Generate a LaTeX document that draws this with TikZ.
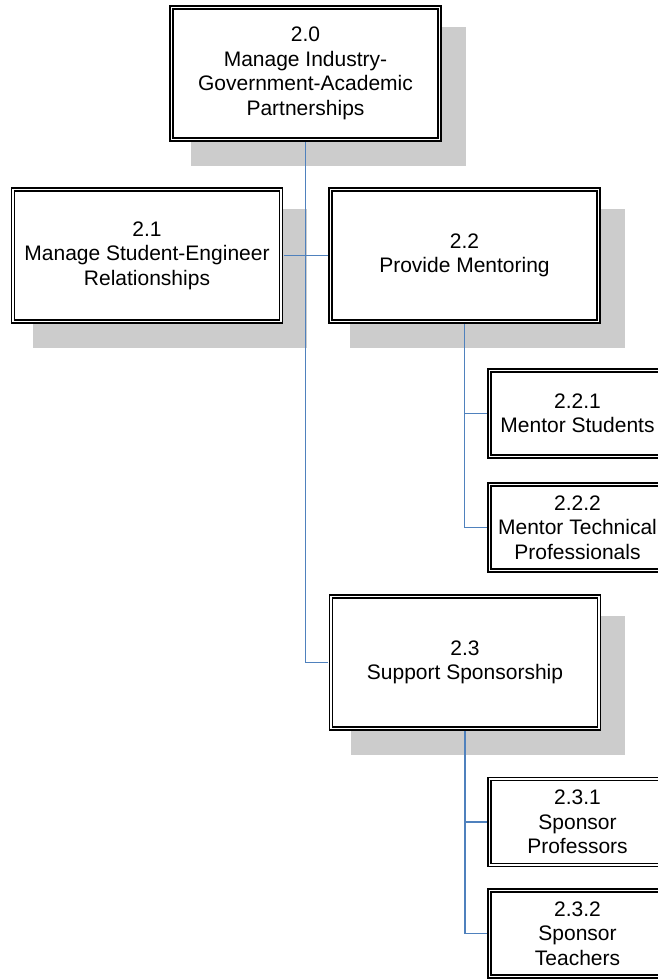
\documentclass[tikz,border=0pt]{standalone}
\usepackage{fontspec}
\setmainfont{Liberation Sans}
\usetikzlibrary{calc}
\pgfdeclarelayer{shadowlayer}
\pgfsetlayers{shadowlayer,main}
\definecolor{shadowgray}{RGB}{204,204,204}
\definecolor{linkblue}{RGB}{79,129,189}
\tikzset{
  taskbox/.style={draw=black, line width=1.6pt, double=white, double distance=1.4pt,
    fill=white, align=center, inner sep=0pt,
    font=\fontsize{21}{24.5}\selectfont},
  bigbox/.style={taskbox, minimum width=268pt, minimum height=132pt},
  smallbox/.style={taskbox, minimum width=176pt, minimum height=86pt},
  link/.style={draw=linkblue, line width=1.8pt, shorten <=2pt, shorten >=2pt},
}
\newcommand{\boxshadow}[1]{%
  \fill[shadowgray] ([shift={(20.7,20.7)}]#1.north west) rectangle ([shift={(25.3,25.3)}]#1.south east);}
\begin{document}
\begin{tikzpicture}[x=1pt, y=-1pt]
  \useasboundingbox (0,0) rectangle (658,980);
  \clip (0,0) rectangle (658,980);

  % top-level process and its sub-processes
  \node[bigbox] (n20) at (305.5,73.5) {2.0\\Manage Industry-\\Government-Academic\\Partnerships};
  \node[bigbox] (n21) at (147,255.5) {2.1\\Manage Student-Engineer\\Relationships};
  \node[bigbox] (n22) at (464.5,255.5) {2.2\\Provide Mentoring};
  \node[bigbox] (n23) at (465,662.5) {2.3\\Support Sponsorship};

  % leaf tasks
  \node[smallbox] (n221) at (577.5,413.5) {2.2.1\\Mentor Students};
  \node[smallbox] (n222) at (577.5,527.5) {2.2.2\\Mentor Technical\\Professionals};
  \node[smallbox] (n231) at (577.5,822) {2.3.1\\Sponsor\\Professors};
  \node[smallbox] (n232) at (577.5,933.5) {2.3.2\\Sponsor\\Teachers};

  % drop shadows behind the main boxes
  \begin{pgfonlayer}{shadowlayer}
    \boxshadow{n20}
    \boxshadow{n21}
    \boxshadow{n22}
    \boxshadow{n23}
  \end{pgfonlayer}

  % connectors
  \path[link] (n20.south) -- (n20.south |- n23.west) -- (n23.west);
  \path[link] (n21.east) -- (n21.east -| n22.west);
  \path[link] (n22.south) -- (n22.south |- n222.west) -- (n222.west);
  \path[link, shorten <=0pt] (n22.south |- n221.west) -- (n221.west);
  \path[link] (n23.south) -- (n23.south |- n232.west) -- (n232.west);
  \path[link, shorten <=0pt] (n23.south |- n231.west) -- (n231.west);
\end{tikzpicture}
\end{document}
